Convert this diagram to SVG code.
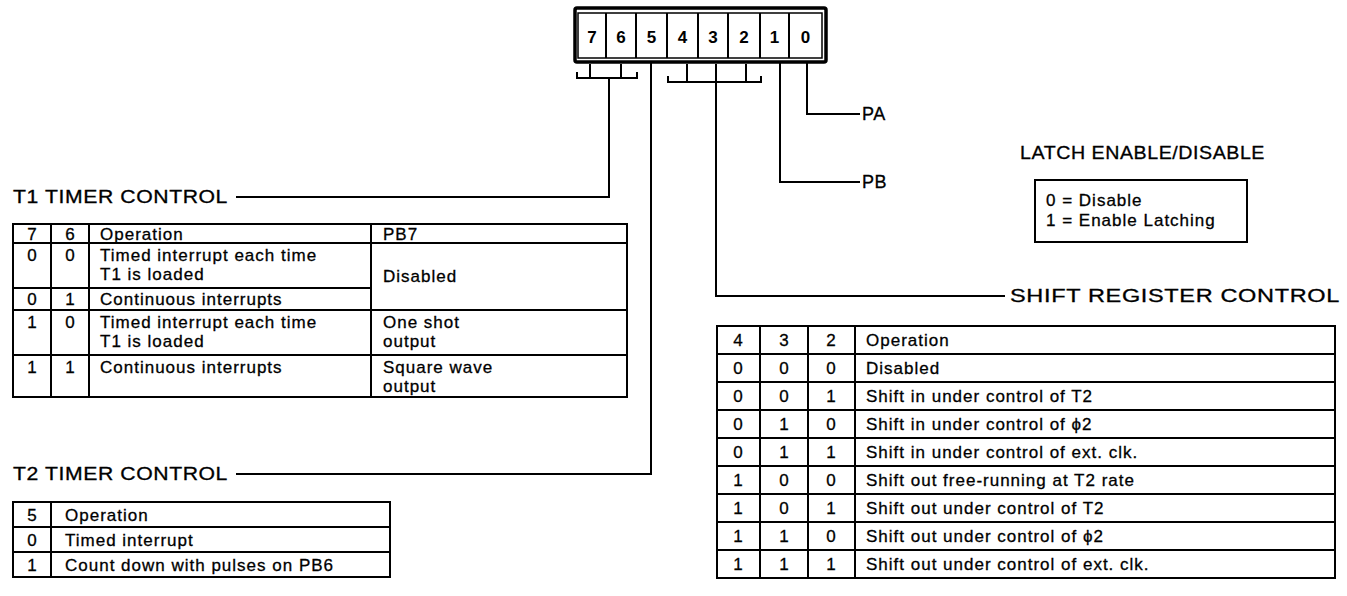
<svg xmlns="http://www.w3.org/2000/svg" width="1347" height="596" viewBox="0 0 1347 596">
<style>
text{font-family:"Liberation Sans",Arial,sans-serif;fill:#000;stroke:#000;stroke-width:0.3}
.t{font-size:17px;letter-spacing:1px}
.c{text-anchor:middle;letter-spacing:0}
.lbl{font-size:18px;letter-spacing:0.5px}
.d{font-size:17px;font-weight:bold;text-anchor:middle;stroke-width:0}
.ln{fill:none;stroke:#000;stroke-width:2}
.tb{fill:none;stroke:#000;stroke-width:2}
</style>
<rect width="1347" height="596" fill="#fff"/>
<g id="register">
<rect x="575" y="8" width="251" height="54" rx="2" fill="none" stroke="#000" stroke-width="3.5"/>
<rect x="578" y="13" width="244" height="45" fill="none" stroke="#000" stroke-width="1.5"/>
<path class="ln" stroke-width="1.5" d="M606,13V58M636,13V58M667,13V58M698,13V58M728,13V58M760,13V58M789,13V58"/>
<text class="d" x="592" y="43">7</text>
<text class="d" x="621" y="43">6</text>
<text class="d" x="651.5" y="43">5</text>
<text class="d" x="682.5" y="43">4</text>
<text class="d" x="713" y="43">3</text>
<text class="d" x="744" y="43">2</text>
<text class="d" x="774.5" y="43">1</text>
<text class="d" x="805.5" y="43">0</text>
</g>
<g id="connectors">
<path class="ln" d="M590,64V78M621,64V78M577,72V78H637V72M609,78V197H236"/>
<path class="ln" d="M651,62V474H236"/>
<path class="ln" d="M687,64V82M716,64V82M746,64V82M668,76V82H761V76M716,82V296H1005"/>
<path class="ln" d="M780,62V182H860"/>
<path class="ln" d="M807,62V114H860"/>
</g>
<g id="pa"><text class="lbl" x="862" y="120">PA</text></g>
<g id="pb"><text class="lbl" x="862" y="188">PB</text></g>
<g id="latch">
<text class="lbl" x="1020" y="159" textLength="245" lengthAdjust="spacingAndGlyphs">LATCH ENABLE/DISABLE</text>
<rect x="1035" y="180" width="212" height="62" class="tb"/>
<text class="t" x="1046" y="206">0 = Disable</text>
<text class="t" x="1046" y="226">1 = Enable Latching</text>
</g>
<g id="t1">
<text class="lbl" x="13" y="203" textLength="215" lengthAdjust="spacingAndGlyphs">T1 TIMER CONTROL</text>
<rect x="13" y="224" width="614" height="173" class="tb"/>
<path class="tb" d="M13,243H627M13,288H371M13,310H627M13,355H627M51,224V397M89,224V397M371,224V397"/>
<text class="t c" x="32" y="240">7</text><text class="t c" x="70" y="240">6</text>
<text class="t" x="100" y="240">Operation</text><text class="t" x="383" y="240">PB7</text>
<text class="t c" x="32" y="261">0</text><text class="t c" x="70" y="261">0</text>
<text class="t" x="100" y="261">Timed interrupt each time</text>
<text class="t" x="100" y="280">T1 is loaded</text>
<text class="t" x="383" y="282">Disabled</text>
<text class="t c" x="32" y="305">0</text><text class="t c" x="70" y="305">1</text>
<text class="t" x="100" y="305">Continuous interrupts</text>
<text class="t c" x="32" y="328">1</text><text class="t c" x="70" y="328">0</text>
<text class="t" x="100" y="328">Timed interrupt each time</text>
<text class="t" x="100" y="347">T1 is loaded</text>
<text class="t" x="383" y="328">One shot</text>
<text class="t" x="383" y="347">output</text>
<text class="t c" x="32" y="373">1</text><text class="t c" x="70" y="373">1</text>
<text class="t" x="100" y="373">Continuous interrupts</text>
<text class="t" x="383" y="373">Square wave</text>
<text class="t" x="383" y="392">output</text>
</g>
<g id="t2">
<text class="lbl" x="13" y="480" textLength="215" lengthAdjust="spacingAndGlyphs">T2 TIMER CONTROL</text>
<rect x="13" y="502" width="377" height="75" class="tb"/>
<path class="tb" d="M13,527H390M13,552H390M51,502V577"/>
<text class="t c" x="32" y="521">5</text><text class="t" x="65" y="521">Operation</text>
<text class="t c" x="32" y="546">0</text><text class="t" x="65" y="546">Timed interrupt</text>
<text class="t c" x="32" y="571">1</text><text class="t" x="65" y="571">Count down with pulses on PB6</text>
</g>
<g id="shift">
<text class="lbl" x="1010" y="302" textLength="330" lengthAdjust="spacingAndGlyphs">SHIFT REGISTER CONTROL</text>
<rect x="717" y="326" width="618" height="252" class="tb"/>
<path class="tb" d="M717,354H1335M717,382H1335M717,410H1335M717,438H1335M717,466H1335M717,494H1335M717,522H1335M717,550H1335M760,326V578M808,326V578M855,326V578"/>
<g class="t">
<text class="c" x="738" y="346">4</text><text class="c" x="784" y="346">3</text><text class="c" x="831" y="346">2</text><text x="866" y="346">Operation</text>
<text class="c" x="738" y="374">0</text><text class="c" x="784" y="374">0</text><text class="c" x="831" y="374">0</text><text x="866" y="374">Disabled</text>
<text class="c" x="738" y="402">0</text><text class="c" x="784" y="402">0</text><text class="c" x="831" y="402">1</text><text x="866" y="402">Shift in under control of T2</text>
<text class="c" x="738" y="430">0</text><text class="c" x="784" y="430">1</text><text class="c" x="831" y="430">0</text><text x="866" y="430">Shift in under control of ϕ2</text>
<text class="c" x="738" y="458">0</text><text class="c" x="784" y="458">1</text><text class="c" x="831" y="458">1</text><text x="866" y="458">Shift in under control of ext. clk.</text>
<text class="c" x="738" y="486">1</text><text class="c" x="784" y="486">0</text><text class="c" x="831" y="486">0</text><text x="866" y="486">Shift out free-running at T2 rate</text>
<text class="c" x="738" y="514">1</text><text class="c" x="784" y="514">0</text><text class="c" x="831" y="514">1</text><text x="866" y="514">Shift out under control of T2</text>
<text class="c" x="738" y="542">1</text><text class="c" x="784" y="542">1</text><text class="c" x="831" y="542">0</text><text x="866" y="542">Shift out under control of ϕ2</text>
<text class="c" x="738" y="570">1</text><text class="c" x="784" y="570">1</text><text class="c" x="831" y="570">1</text><text x="866" y="570">Shift out under control of ext. clk.</text>
</g>
</g>
</svg>
